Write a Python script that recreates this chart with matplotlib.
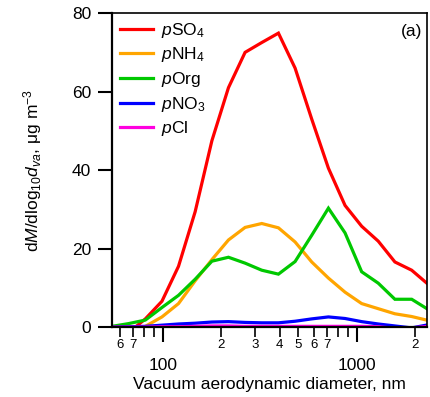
import numpy as np
import matplotlib
matplotlib.use("Agg")
import matplotlib.pyplot as plt
from matplotlib.ticker import LogLocator, FuncFormatter

plt.rcParams['font.family'] = ['Liberation Sans', 'DejaVu Sans']
plt.rcParams['mathtext.fontset'] = 'custom'
plt.rcParams['mathtext.rm'] = 'Liberation Sans'
plt.rcParams['mathtext.it'] = 'Liberation Sans:italic'

# size bins (nm)
diam = [54.6, 66.5, 81.1, 98.8, 120.3, 146.6, 178.9, 217.8, 265.4, 323.6,
        394.5, 480.8, 586.0, 714.5, 870.9, 1061, 1292, 1575, 1923, 2339]

so4 = [-2.0, -1.4, 2.1, 6.6, 15.5, 29.4, 47.5, 61.0, 70.0, 72.5,
       74.9, 66.0, 53.0, 40.5, 31.0, 25.7, 21.9, 16.6, 14.5, 10.9]
nh4 = [-2.0, -1.0, 0.2, 2.6, 6.0, 11.8, 17.2, 22.2, 25.4, 26.4,
       25.3, 21.7, 16.6, 12.5, 8.9, 6.0, 4.7, 3.4, 2.7, 1.7]
org = [0.2, 0.9, 1.8, 5.0, 8.1, 12.2, 16.8, 17.8, 16.3, 14.5,
       13.5, 16.7, 23.4, 30.3, 24.0, 14.1, 11.2, 7.1, 7.1, 4.5]
no3 = [0.0, 0.1, 0.2, 0.5, 0.8, 1.0, 1.3, 1.4, 1.2, 1.1,
       1.1, 1.5, 2.1, 2.6, 2.2, 1.4, 0.8, 0.3, -0.2, 0.6]
cl = [0.0, 0.0, 0.0, 0.1, 0.1, 0.2, 0.3, 0.3, 0.2, 0.2,
      0.2, 0.2, 0.2, 0.2, 0.2, 0.2, 0.1, -0.3, -0.2, 0.2]

names = ['$\\it{p}$SO$_4$', '$\\it{p}$NH$_4$', '$\\it{p}$Org', '$\\it{p}$NO$_3$', '$\\it{p}$Cl']
cols = ['#ff0000', '#ffa500', '#00c800', '#0000ff', '#ff00e0']

fig = plt.figure(figsize=(4.31, 3.97), dpi=100)
ax = fig.add_axes([0.26, 0.176, 0.731, 0.791])

lis = [so4, nh4, org, no3, cl]
for i in range(len(lis)):
    ax.plot(diam, lis[i], color=cols[i], lw=2.3, label=names[i],
            solid_joinstyle='miter')

ax.set_xscale('log')
ax.set_xlim(54.6, 2310)
ax.set_ylim(0, 80)
ax.set_yticks([0, 20, 40, 60, 80])

ax.xaxis.set_major_locator(LogLocator(base=10, subs=(1.0,)))
ax.xaxis.set_minor_locator(LogLocator(base=10, subs=np.arange(2, 10)))
ax.xaxis.set_major_formatter(FuncFormatter(lambda v, p: '%d' % round(v)))

def minor_lab(v, p):
    m = int(round(v / 10 ** np.floor(np.log10(v) + 1e-9)))
    if 2 <= m <= 7:
        return str(m)
    return ''

ax.xaxis.set_minor_formatter(FuncFormatter(minor_lab))

ax.tick_params(axis='x', which='major', direction='out', length=11, width=1.5,
               pad=11, labelsize=12.5)
ax.tick_params(axis='x', which='minor', direction='out', length=7, width=1.2,
               pad=1.5, labelsize=9.5)
ax.tick_params(axis='y', which='major', direction='out', length=10, width=1.5,
               pad=5, labelsize=12.5)

for s in ['left', 'bottom']:
    ax.spines[s].set_linewidth(1.6)
for s in ['top', 'right']:
    ax.spines[s].set_linewidth(1.2)

ax.set_xlabel('Vacuum aerodynamic diameter, nm', fontsize=12.5, labelpad=3)
ax.set_ylabel('d$\\it{M}$/dlog$_{10}$$\\it{d}_{va}$, μg m$^{-3}$', fontsize=12.5)
ax.yaxis.set_label_coords(-0.215, 0.5)

ax.legend(loc='upper left', frameon=False, fontsize=12.5, handlelength=1.9,
          handletextpad=0.45, labelspacing=0.32, borderaxespad=0.05)
ax.text(0.985, 0.965, '(a)', transform=ax.transAxes, ha='right', va='top',
        fontsize=12.5)

plt.savefig('out.png', dpi=100)
